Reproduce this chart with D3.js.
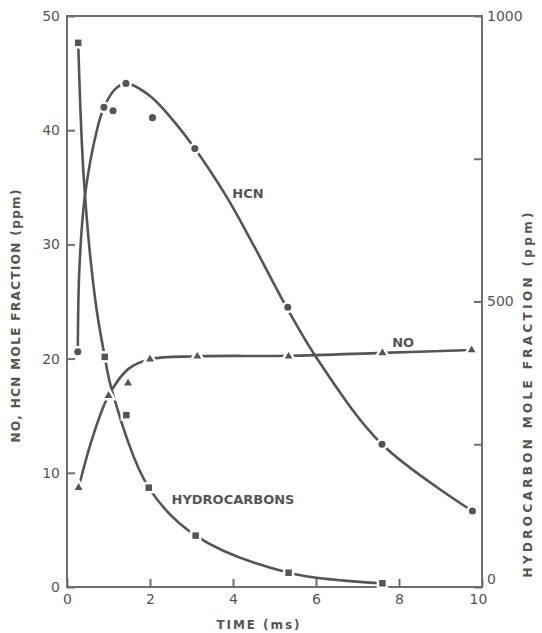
<!DOCTYPE html>
<html>
<head>
<meta charset="utf-8">
<script src="https://cdn.jsdelivr.net/npm/d3@7"></script>
<style>
  body { margin: 0; background: #fff; }
  text { font-family: "DejaVu Sans", sans-serif; fill: #555; }
</style>
</head>
<body>
<div id="chart"></div>
<script>
// measured points (time in ms)
const hcnTime = [0.26, 0.89, 1.11, 1.42, 2.06, 3.08, 5.32, 7.59, 9.77];
const hcnPpm  = [20.6, 42.0, 41.7, 44.1, 41.1, 38.4, 24.5, 12.5, 6.65];

const noTime = [0.28, 1.0, 1.47, 2.0, 3.14, 5.34, 7.6, 9.75];
const noPpm  = [8.7, 16.75, 17.85, 19.95, 20.2, 20.2, 20.5, 20.75];

const hcTime = [0.27, 0.91, 1.43, 1.97, 3.1, 5.34, 7.6];
const hcPpm  = [953, 403, 301, 174, 90, 25, 6.5];

// hand drawn fit curves
const hcnFitT = [0.26, 0.3, 0.43, 0.72, 0.89, 1.16, 1.42, 2.0, 2.5, 3.08, 3.84, 4.47, 5.32, 6.08, 7.59, 9.77];
const hcnFitV = [20.6, 28, 34.2, 40, 42.0, 43.6, 44.1, 43.0, 41.1, 38.4, 34.2, 30.1, 24.3, 19.7, 12.5, 6.65];

const noFitT = [0.28, 0.6, 1.0, 1.48, 2.0, 3.14, 5.34, 7.6, 9.75];
const noFitV = [8.7, 12.9, 16.75, 19.1, 19.95, 20.2, 20.25, 20.5, 20.75];

const hcFitT = [0.27, 0.41, 0.68, 0.91, 1.08, 1.97, 3.1, 5.34, 7.6];
const hcFitV = [953, 710, 503, 403, 345, 174, 90, 25, 6.5];

const xTicks = [0, 2, 4, 6, 8, 10];
const yLeftTicks = [0, 10, 20, 30, 40, 50];
const yRightTicks = [0, 250, 500, 750, 1000];

const width = 542, height = 633;
const ink = "#555";

const svg = d3.select("#chart").append("svg")
  .attr("width", width)
  .attr("height", height);

const x = d3.scaleLinear().domain([0, 10]).range([67, 482]);
const yL = d3.scaleLinear().domain([0, 50]).range([587, 16]);
const yR = d3.scaleLinear().domain([0, 1000]).range([587, 16]);

// frame
svg.append("rect")
  .attr("x", x(0)).attr("y", yL(50))
  .attr("width", x(10) - x(0)).attr("height", yL(0) - yL(50))
  .attr("fill", "none").attr("stroke", "#6f6f6f").attr("stroke-width", 2);

function styleAxis(g) {
  g.select(".domain").remove();
  g.selectAll(".tick line").attr("stroke", "#6f6f6f").attr("stroke-width", 2);
  g.selectAll(".tick text").style("font-size", "14px").attr("fill", "#555");
}

svg.append("g")
  .attr("transform", `translate(${x(0)},0)`)
  .call(d3.axisLeft(yL).tickValues(yLeftTicks).tickSize(-8).tickPadding(7))
  .call(styleAxis);

const rightAxis = svg.append("g")
  .attr("transform", `translate(${x(10)},0)`)
  .call(d3.axisRight(yR).tickValues(yRightTicks).tickSize(-8).tickPadding(5)
    .tickFormat(d => d % 500 === 0 ? d : ""))
  .call(styleAxis);
// the right-hand zero sits a little above the corner
rightAxis.selectAll(".tick text").filter(d => d === 0).attr("y", -8);

const bottomAxis = svg.append("g")
  .attr("transform", `translate(0,${yL(0)})`)
  .call(d3.axisBottom(x).tickValues(xTicks).tickSize(-8).tickPadding(7))
  .call(styleAxis);
bottomAxis.selectAll(".tick text").filter(d => d === 10).attr("x", -4);

// axis titles
svg.append("text")
  .attr("x", 258).attr("y", 629)
  .attr("text-anchor", "middle")
  .attr("textLength", 83).attr("lengthAdjust", "spacing")
  .style("font-size", "12px").style("font-weight", "bold")
  .text("TIME (ms)");

svg.append("text")
  .attr("transform", "translate(20,316) rotate(-90)")
  .attr("text-anchor", "middle")
  .attr("textLength", 253).attr("lengthAdjust", "spacing")
  .style("font-size", "12px").style("font-weight", "bold")
  .text("NO, HCN MOLE FRACTION (ppm)");

svg.append("text")
  .attr("transform", "translate(532,395) rotate(-90)")
  .attr("text-anchor", "middle")
  .attr("textLength", 365).attr("lengthAdjust", "spacing")
  .style("font-size", "12px").style("font-weight", "bold")
  .text("HYDROCARBON MOLE FRACTION (ppm)");

// curves
const lineL = d3.line().x(d => x(d[0])).y(d => yL(d[1])).curve(d3.curveCatmullRom.alpha(0.5));
const lineR = d3.line().x(d => x(d[0])).y(d => yR(d[1])).curve(d3.curveCatmullRom.alpha(0.5));

svg.append("path").datum(d3.zip(hcnFitT, hcnFitV))
  .attr("d", lineL).attr("fill", "none").attr("stroke", ink).attr("stroke-width", 2.6);
svg.append("path").datum(d3.zip(noFitT, noFitV))
  .attr("d", lineL).attr("fill", "none").attr("stroke", ink).attr("stroke-width", 2.6);
svg.append("path").datum(d3.zip(hcFitT, hcFitV))
  .attr("d", lineR).attr("fill", "none").attr("stroke", ink).attr("stroke-width", 2.6);

// markers
svg.append("g").selectAll("circle")
  .data(d3.zip(hcnTime, hcnPpm))
  .join("circle")
  .attr("cx", d => x(d[0])).attr("cy", d => yL(d[1])).attr("r", 4.8)
  .attr("fill", ink).attr("stroke", "#fff").attr("stroke-width", 2.5);

svg.append("g").selectAll("path")
  .data(d3.zip(noTime, noPpm))
  .join("path")
  .attr("transform", d => `translate(${x(d[0])},${yL(d[1])})`)
  .attr("d", d3.symbol(d3.symbolTriangle, 64))
  .attr("fill", ink).attr("stroke", "#fff").attr("stroke-width", 2.5);

svg.append("g").selectAll("rect")
  .data(d3.zip(hcTime, hcPpm))
  .join("rect")
  .attr("x", d => x(d[0]) - 4.5).attr("y", d => yR(d[1]) - 4.5)
  .attr("width", 9).attr("height", 9)
  .attr("fill", ink).attr("stroke", "#fff").attr("stroke-width", 2.5);

// curve labels
svg.append("text").attr("x", x(4.36)).attr("y", yL(34.5))
  .attr("text-anchor", "middle").attr("dy", "0.35em")
  .style("font-size", "13px").style("font-weight", "bold").text("HCN");
svg.append("text").attr("x", x(4.0)).attr("y", yL(7.7))
  .attr("text-anchor", "middle").attr("dy", "0.35em")
  .style("font-size", "13px").style("font-weight", "bold").text("HYDROCARBONS");
svg.append("text").attr("x", x(8.1)).attr("y", yL(21.45))
  .attr("text-anchor", "middle").attr("dy", "0.35em")
  .style("font-size", "13px").style("font-weight", "bold").text("NO");
</script>
</body>
</html>
